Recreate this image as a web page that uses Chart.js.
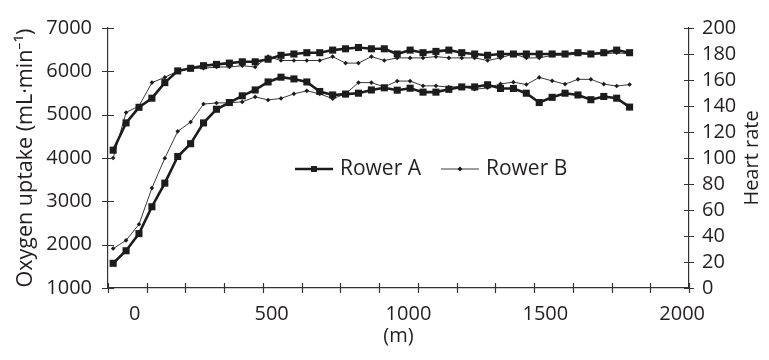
<!DOCTYPE html>
<html>
<head>
<meta charset="utf-8">
<script src="https://cdn.jsdelivr.net/npm/chart.js@4.4.0/dist/chart.umd.min.js"></script>
<style>
  body { margin: 0; background: #fff; }
  #wrap { width: 769px; height: 360px; }
</style>
</head>
<body>
<div id="wrap"><canvas id="rowChart" width="769" height="360"></canvas></div>
<script>
// distance rowed (m), one sample every 50 m
const distance = [0, 50, 100, 150, 200, 250, 300, 350, 400, 450, 500, 550, 600, 650, 700, 750, 800, 850, 900, 950,
  1000, 1050, 1100, 1150, 1200, 1250, 1300, 1350, 1400, 1450, 1500, 1550, 1600, 1650, 1700, 1750, 1800, 1850, 1900, 1950, 2000];

// heart rate (beats/min)
const hrA = [106, 127, 139, 146, 158, 167, 169, 171, 172, 173, 174, 174, 176, 179, 180, 181, 181, 183, 184, 185,
  184, 184, 180, 183, 181, 182, 183, 181, 180, 179, 180, 180, 180, 180, 180, 180, 181, 180, 181, 183, 181];
const hrB = [100, 135, 140, 158, 162, 167, 169, 169, 170, 170, 171, 170, 178, 175, 175, 175, 175, 178, 173, 173,
  178, 175, 177, 177, 177, 178, 177, 177, 177, 175, 177, 180, 177, 177, 179, 179, 180, 180, 180, 181, 180];

// oxygen uptake (mL/min)
const vo2A = [1570, 1860, 2255, 2875, 3420, 4035, 4330, 4810, 5125, 5280, 5435, 5570, 5755, 5865, 5825, 5755, 5535, 5455, 5475, 5495,
  5570, 5620, 5565, 5610, 5520, 5520, 5585, 5640, 5640, 5690, 5605, 5605, 5495, 5280, 5400, 5495, 5455, 5345, 5420, 5380, 5175];
const vo2B = [1910, 2100, 2470, 3305, 3995, 4615, 4830, 5245, 5270, 5275, 5295, 5410, 5340, 5375, 5480, 5550, 5480, 5370, 5480, 5740,
  5740, 5640, 5775, 5775, 5665, 5665, 5635, 5650, 5585, 5620, 5710, 5750, 5695, 5860, 5780, 5705, 5815, 5815, 5705, 5660, 5695];

const distanceTicks = [0, 500, 1000, 1500, 2000];
const rowerNames = ['Rower A', 'Rower B'];

const INK = '#231f20';
const FONT = "'Open Sans', 'Noto Sans', sans-serif";

function pts(values) {
  return distance.map((d, i) => ({ x: d, y: values[i] }));
}

// plain numbers, no thousands separator
const plain = v => String(v);

const styleA = {
  borderColor: '#1c1c1c', borderWidth: 2.6,
  pointStyle: 'rect', pointRadius: 5, pointBackgroundColor: '#1c1c1c', pointBorderWidth: 0
};
const styleB = {
  borderColor: '#3a3a3a', borderWidth: 1,
  pointStyle: 'rectRot', pointRadius: 2.3, pointBackgroundColor: '#1c1c1c', pointBorderWidth: 0
};

// tick marks that cross the axis lines
const crossTicks = {
  id: 'crossTicks',
  afterDraw(chart) {
    const ctx = chart.ctx;
    const { x, y, y2 } = chart.scales;
    const area = chart.chartArea;
    ctx.save();
    ctx.strokeStyle = '#333';
    ctx.lineWidth = 1.2;
    ctx.beginPath();
    y.ticks.forEach(t => {
      const py = Math.round(y.getPixelForValue(t.value)) + 0.5;
      ctx.moveTo(area.left - 6, py); ctx.lineTo(area.left + 6, py);
    });
    y2.ticks.forEach(t => {
      const py = Math.round(y2.getPixelForValue(t.value)) + 0.5;
      ctx.moveTo(area.right - 5, py); ctx.lineTo(area.right + 5, py);
    });
    x.ticks.forEach(t => {
      const px = Math.round(x.getPixelForValue(t.value)) + 0.5;
      ctx.moveTo(px, area.bottom - 5); ctx.lineTo(px, area.bottom + 5);
    });
    ctx.stroke();

    // right-hand axis title, reading upwards
    ctx.fillStyle = INK;
    ctx.font = '20px ' + FONT;
    ctx.textAlign = 'center';
    ctx.textBaseline = 'middle';
    ctx.translate(752, (area.top + area.bottom) / 2);
    ctx.rotate(-Math.PI / 2);
    ctx.fillText('Heart rate', 0, 0);
    ctx.restore();
  }
};

// legend sitting inside the plot
const innerLegend = {
  id: 'innerLegend',
  afterDraw(chart, args, opts) {
    const ctx = chart.ctx;
    const styles = [styleA, styleB];
    let cx = opts.x;
    const cy = opts.y;
    ctx.save();
    ctx.font = '21px ' + FONT;
    ctx.textBaseline = 'middle';
    rowerNames.forEach((name, i) => {
      const s = styles[i];
      ctx.strokeStyle = s.borderColor;
      ctx.lineWidth = s.borderWidth;
      ctx.beginPath();
      ctx.moveTo(cx, cy); ctx.lineTo(cx + 38, cy);
      ctx.stroke();
      Chart.helpers.drawPoint(ctx, {
        pointStyle: s.pointStyle, radius: s.pointRadius * (i === 0 ? 0.8 : 1),
        borderWidth: 0, rotation: 0
      }, cx + 19, cy);
      ctx.fillStyle = s.pointBackgroundColor;
      ctx.fill();
      ctx.fillStyle = INK;
      ctx.fillText(name, cx + 45, cy);
      cx += 45 + ctx.measureText(name).width + 20;
    });
    ctx.restore();
  }
};

new Chart(document.getElementById('rowChart'), {
  type: 'line',
  data: {
    datasets: [
      { label: 'Rower A heart rate', data: pts(hrA), yAxisID: 'y2', ...styleA },
      { label: 'Rower A oxygen uptake', data: pts(vo2A), yAxisID: 'y', ...styleA },
      { label: 'Rower B heart rate', data: pts(hrB), yAxisID: 'y2', ...styleB },
      { label: 'Rower B oxygen uptake', data: pts(vo2B), yAxisID: 'y', ...styleB }
    ]
  },
  options: {
    responsive: false,
    animation: false,
    layout: { padding: { top: 20, left: 0, right: 0, bottom: 0 } },
    elements: { line: { tension: 0 } },
    plugins: {
      legend: { display: false },
      tooltip: { enabled: false },
      innerLegend: { x: 295, y: 169 }
    },
    scales: {
      x: {
        type: 'linear', position: 'bottom', weight: 0,
        min: -20, max: 2230,
        afterBuildTicks: s => {
          s.ticks = [];
          for (let v = -20; v <= 2230; v += 150) s.ticks.push({ value: v });
        },
        afterFit: s => { s.height = 0; },
        ticks: { display: false },
        grid: { display: false, drawTicks: false },
        border: { display: true, color: '#333', width: 1.2 }
      },
      xl: {
        type: 'linear', position: 'bottom', weight: 1,
        min: -98, max: 2025,
        afterBuildTicks: s => { s.ticks = distanceTicks.map(v => ({ value: v })); },
        afterFit: s => { s.height = 72; },
        ticks: { color: INK, font: { family: FONT, size: 20 }, padding: 14, maxRotation: 0, autoSkip: false, callback: plain },
        grid: { display: false, drawTicks: false },
        border: { display: false },
        title: { display: true, text: '(m)', color: INK, font: { family: FONT, size: 20 }, padding: { top: 0, bottom: 12 } }
      },
      y: {
        position: 'left',
        min: 1000, max: 7000,
        ticks: { stepSize: 1000, color: INK, font: { family: FONT, size: 20 }, padding: 16, autoSkip: false, callback: plain },
        afterFit: s => { s.width = 108; },
        grid: { display: false, drawTicks: false },
        border: { display: true, color: '#333', width: 1.2 },
        title: { display: true, text: 'Oxygen uptake (mL·min⁻¹)', color: INK, font: { family: FONT, size: 21.5 }, padding: { top: 13, bottom: 0 } }
      },
      y2: {
        position: 'right',
        min: 0, max: 200,
        ticks: { stepSize: 20, color: INK, font: { family: FONT, size: 20 }, padding: 13, autoSkip: false, callback: plain },
        afterFit: s => { s.width = 80; },
        grid: { display: false, drawTicks: false },
        border: { display: true, color: '#333', width: 1.2 }
      }
    }
  },
  plugins: [crossTicks, innerLegend]
});
</script>
</body>
</html>
